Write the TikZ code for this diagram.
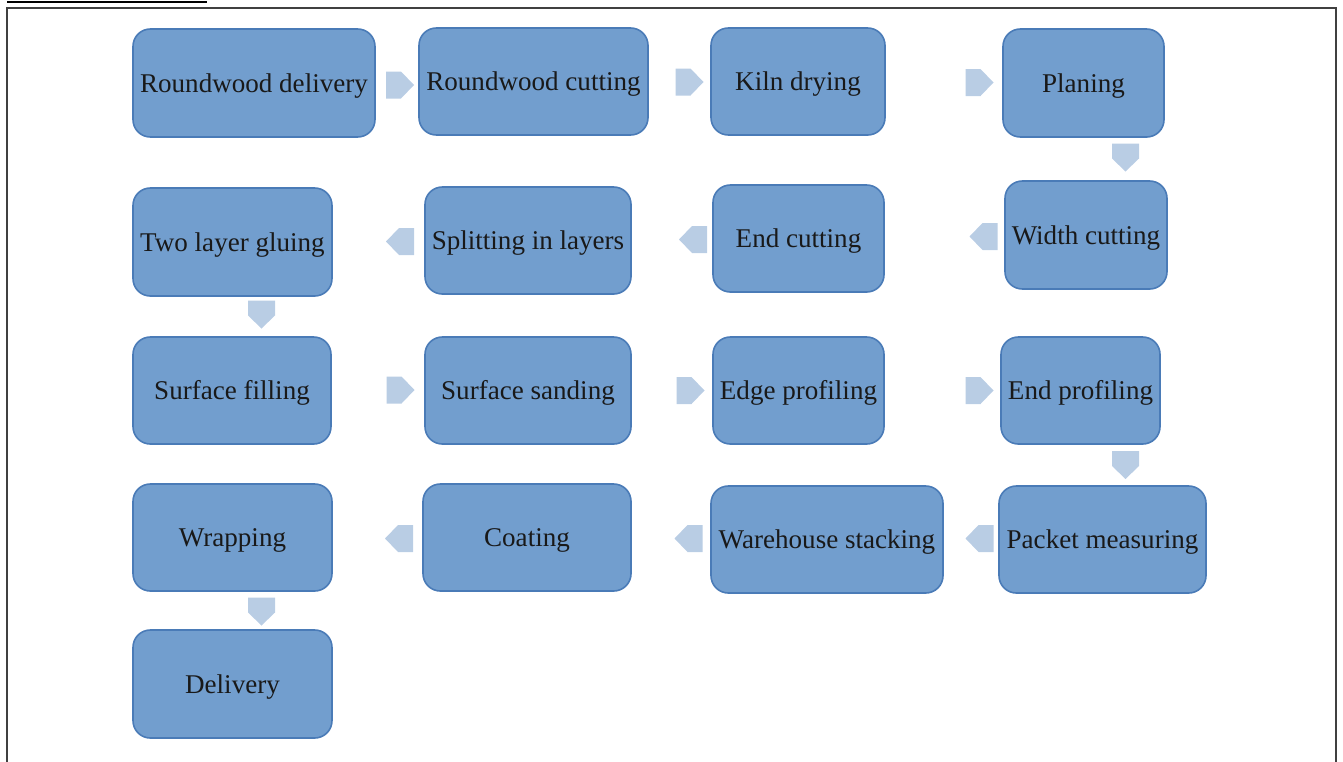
\documentclass[tikz,border=0pt]{standalone}
\usepackage{fontspec}
\setmainfont{Liberation Serif}
\definecolor{boxfill}{HTML}{729ECE}
\definecolor{boxline}{HTML}{4A7BB7}
\definecolor{arrfill}{HTML}{B9CDE4}
\definecolor{frame}{HTML}{404040}
\tikzset{
  box/.style={draw=boxline, line width=1.2pt, fill=boxfill, rounded corners=13pt,
    inner sep=0pt, text height=16pt, text depth=2.5pt,
    font=\fontsize{20.3}{24}\selectfont, text=black!90},
  arr/.style={fill=arrfill, draw=none},
  arrR/.pic={\path[arr] (-14,-13.5) -- (1,-13.5) -- (14,0) -- (1,13.5) -- (-14,13.5) -- cycle;},
  arrL/.pic={\path[arr] (14,-13.5) -- (-1,-13.5) -- (-14,0) -- (-1,13.5) -- (14,13.5) -- cycle;},
  arrD/.pic={\path[arr] (-13.5,-14) -- (13.5,-14) -- (13.5,1) -- (0,14) -- (-13.5,1) -- cycle;},
}
\newcommand\bx[6]{\node[box, minimum width=#4*0.75pt, minimum height=#5*0.75pt] (#1) at (#2,#3) {#6};}
\begin{document}
\begin{tikzpicture}[x=0.75pt, y=-0.75pt]
\useasboundingbox (0,0) rectangle (1343,761);
% frame
\draw[frame, line width=1.5pt] (7,765) -- (7,8) -- (1336,8) -- (1336,765);
\draw[black, line width=1.2pt] (7,2) -- (207,2);
% boxes
\bx{rd}{254}{83}{242}{108}{Roundwood delivery}
\bx{rc}{533.5}{81.5}{229}{107}{Roundwood cutting}
\bx{kd}{798}{81.5}{174}{107}{Kiln drying}
\bx{pl}{1083.5}{83}{161}{108}{Planing}
\bx{wc}{1086}{235}{162}{108}{Width cutting}
\bx{ec}{798.5}{238.5}{171}{107}{End cutting}
\bx{sl}{528}{240.5}{206}{107}{Splitting in layers}
\bx{tg}{232.5}{242}{199}{108}{Two layer gluing}
\bx{sf}{232}{390.5}{198}{107}{Surface filling}
\bx{ss}{528}{390.5}{206}{107}{Surface sanding}
\bx{ep}{798.5}{390.5}{171}{107}{Edge profiling}
\bx{enp}{1080.5}{390.5}{159}{107}{End profiling}
\bx{pm}{1102.5}{539.5}{207}{107}{Packet measuring}
\bx{ws}{827}{539.5}{232}{107}{Warehouse stacking}
\bx{co}{527}{537.5}{208}{107}{Coating}
\bx{wr}{232.5}{537.5}{199}{107}{Wrapping}
\bx{de}{232.5}{684}{199}{108}{Delivery}
% arrows
\pic at (400,85) {arrR};
\pic at (689.5,82) {arrR};
\pic at (979.5,82.5) {arrR};
\pic at (1125.5,157.5) {arrD};
\pic at (400,241.5) {arrL};
\pic at (693,239.5) {arrL};
\pic at (983.5,236.5) {arrL};
\pic at (261.5,314.5) {arrD};
\pic at (400.5,390) {arrR};
\pic at (690.5,390.5) {arrR};
\pic at (979.5,390.5) {arrR};
\pic at (1125.5,465) {arrD};
\pic at (399,538.5) {arrL};
\pic at (688.5,538.5) {arrL};
\pic at (979.5,538.5) {arrL};
\pic at (261.5,611.5) {arrD};
\end{tikzpicture}
\end{document}
